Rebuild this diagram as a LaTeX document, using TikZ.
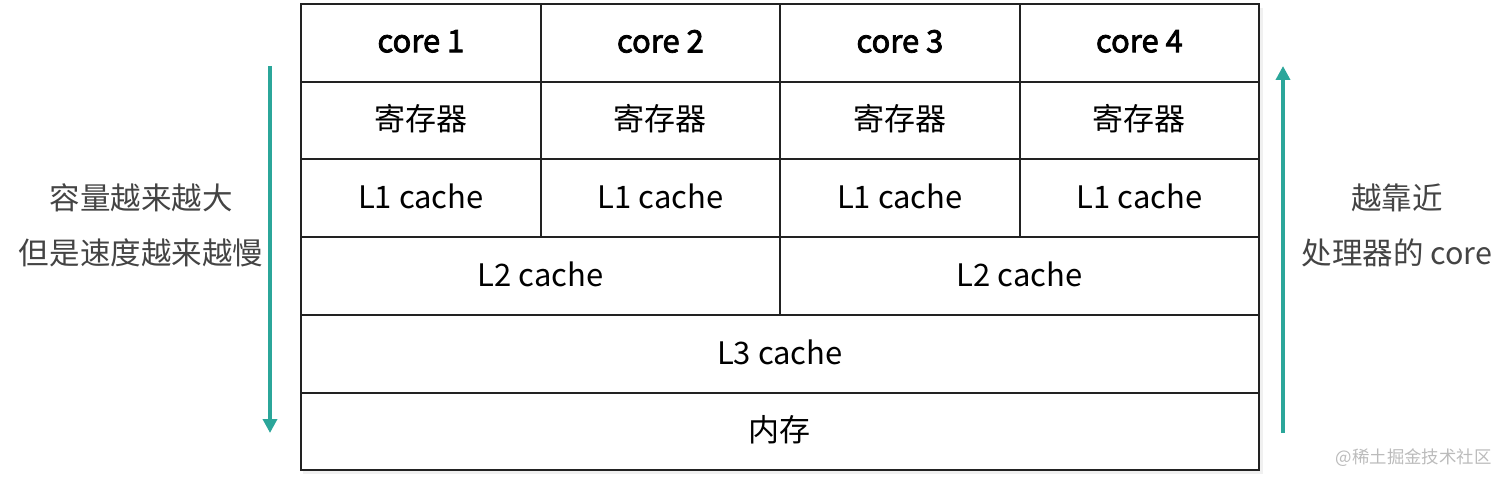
\documentclass[tikz,border=0pt]{standalone}
\usepackage{fontspec}
\setmainfont{Noto Sans CJK SC}
\newfontfamily\cjkmed[FakeBold=2.5]{Noto Sans CJK SC}
\usetikzlibrary{arrows.meta}
\definecolor{teal1}{HTML}{2BA69A}
\definecolor{grid}{HTML}{222222}
\definecolor{side}{HTML}{444444}
\definecolor{wm}{HTML}{BBBBBB}
\begin{document}
\begin{tikzpicture}[x=1pt,y=-1pt,
  cell/.style={draw=grid,line width=1.8pt,inner sep=0pt,anchor=north west},
  lbl/.style={font=\fontsize{31}{36}\selectfont,text=black,yshift=1.5pt},
  sidelbl/.style={font=\fontsize{30.5}{55}\selectfont,text=side,align=center},
  arr/.style={draw=teal1,line width=3.5pt,-{Triangle[length=14pt,width=14pt]}}]
\useasboundingbox (0,0) rectangle (1512,484);
\fill[black!6] (303,8) rectangle (1263,474);
% columns / rows
\def\ra{3}\def\rb{81}\def\rc{158}\def\rd{236}\def\re{314}\def\rf{392}\def\rg{469}
\foreach \i/\xa/\xb in {1/300/540,2/540/779,3/779/1019,4/1019/1258}{
  \node[cell,minimum width={\xb-\xa},minimum height=78,fill=white] (core\i) at (\xa,\ra) {};
  \node[lbl] at (core\i.center) {\cjkmed core \i};
  \node[cell,minimum width={\xb-\xa},minimum height=77,fill=white] (reg\i) at (\xa,\rb) {};
  \node[lbl] at (reg\i.center) {寄存器};
  \node[cell,minimum width={\xb-\xa},minimum height=78,fill=white] (lone\i) at (\xa,\rc) {};
  \node[lbl] at (lone\i.center) {L1 cache};
}
\node[cell,minimum width=479,minimum height=78,fill=white] (ltwoa) at (300,\rd) {};
\node[lbl] at (ltwoa.center) {L2 cache};
\node[cell,minimum width=479,minimum height=78,fill=white] (ltwob) at (779,\rd) {};
\node[lbl] at (ltwob.center) {L2 cache};
\node[cell,minimum width=958,minimum height=78,fill=white] (lthree) at (300,\re) {};
\node[lbl] at (lthree.center) {L3 cache};
\node[cell,minimum width=958,minimum height=77,fill=white] (mem) at (300,\rf) {};
\node[lbl] at (mem.center) {内存};
% arrows
\coordinate (la) at (270,66);
\coordinate (lb) at (270,433);
\coordinate (ra) at (1283,433);
\coordinate (rb) at (1283,66);
\draw[arr] (la) -- (lb);
\draw[arr] (ra) -- (rb);
\node[sidelbl] (ltext) at (141,225) {容量越来越大\\但是速度越来越慢};
\node[sidelbl] (rtext) at (1397,225) {越靠近\\处理器的 core};
\node[font=\fontsize{17.4}{20}\selectfont,text=wm,anchor=east] (wmark) at (1495,458) {@稀土掘金技术社区};
\end{tikzpicture}
\end{document}
